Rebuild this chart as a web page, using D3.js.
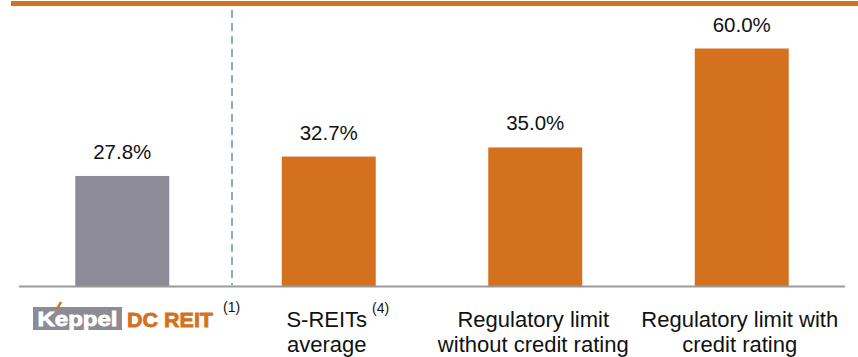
<!DOCTYPE html>
<html>
<head>
<meta charset="utf-8">
<script src="https://cdn.jsdelivr.net/npm/d3@7"></script>
<style>
  html, body { margin: 0; padding: 0; background: #fff; }
  svg { display: block; }
</style>
</head>
<body>
<svg id="chart" width="858" height="357"></svg>
<script>
// Aggregate leverage comparison
const categories = ["Keppel DC REIT", "S-REITs average", "Regulatory limit without credit rating", "Regulatory limit with credit rating"];
const values = [27.8, 32.7, 35.0, 60.0];
const valueLabels = ["27.8%", "32.7%", "35.0%", "60.0%"];
const labelLines = [
  [],
  ["S-REITs", "average"],
  ["Regulatory limit", "without credit rating"],
  ["Regulatory limit with", "credit rating"]
];
const footnotes = ["(1)", "(4)", "", ""];

const ORANGE = "#D4711F";
const GREY = "#8C8B97";
const FONT = "'Liberation Sans', Arial, sans-serif";

const svg = d3.select("#chart");

const x = d3.scaleBand()
  .domain(categories)
  .range([19, 845])
  .paddingInner(0.545)
  .paddingOuter(0.2725);

const y = d3.scaleLinear()
  .domain([0, 60])
  .range([286, 48.5]);

// top rule
svg.append("rect")
  .attr("x", 11).attr("y", 1)
  .attr("width", 847).attr("height", 5)
  .attr("fill", ORANGE);

// separator between the REIT and its benchmarks
svg.append("line")
  .attr("x1", 232).attr("x2", 232)
  .attr("y1", 10).attr("y2", 285)
  .attr("stroke", "#8FA9C9")
  .attr("stroke-width", 2)
  .attr("stroke-dasharray", "8,5");

// bars
svg.append("g").selectAll("rect")
  .data(categories)
  .join("rect")
  .attr("x", d => x(d))
  .attr("width", x.bandwidth())
  .attr("y", (d, i) => y(values[i]))
  .attr("height", (d, i) => y(0) - y(values[i]))
  .attr("fill", (d, i) => i === 0 ? GREY : ORANGE);

// baseline
svg.append("line")
  .attr("x1", 19).attr("x2", 845)
  .attr("y1", 286.5).attr("y2", 286.5)
  .attr("stroke", "#999")
  .attr("stroke-width", 2);

// value labels
svg.append("g").selectAll("text")
  .data(categories)
  .join("text")
  .attr("x", d => x(d) + x.bandwidth() / 2)
  .attr("y", (d, i) => y(values[i]) - 17)
  .attr("text-anchor", "middle")
  .attr("font-family", FONT)
  .attr("font-size", 20.5)
  .attr("fill", "#111")
  .text((d, i) => valueLabels[i]);

// category labels: one text per category, one tspan per line
const lab = svg.append("g");
categories.forEach((c, i) => {
  if (!labelLines[i].length) return;
  const cx = x(c) + x.bandwidth() / 2 - 2;
  const t = lab.append("text")
    .attr("font-family", FONT)
    .attr("font-size", 22)
    .attr("fill", "#111");
  labelLines[i].forEach((ln, j) => {
    t.append("tspan")
      .attr("x", cx)
      .attr("y", 327 + j * 25)
      .attr("text-anchor", "middle")
      .text(ln);
  });
  if (footnotes[i]) {
    const first = t.select("tspan").node();
    const w = first.getComputedTextLength();
    t.append("tspan")
      .attr("x", cx + w / 2 + 5)
      .attr("y", 313)
      .attr("text-anchor", "start")
      .attr("font-size", 14)
      .text(footnotes[i]);
  }
});

// Keppel DC REIT logo
const logo = svg.append("g");
logo.append("rect")
  .attr("x", 33).attr("y", 307)
  .attr("width", 89).attr("height", 23)
  .attr("fill", "#8C8C94");
logo.append("text")
  .attr("x", 77.5).attr("y", 326)
  .attr("text-anchor", "middle")
  .attr("font-family", FONT)
  .attr("font-weight", "bold")
  .attr("font-size", 20)
  .attr("textLength", 80)
  .attr("lengthAdjust", "spacingAndGlyphs")
  .attr("fill", "#fff")
  .attr("stroke", "#fff")
  .attr("stroke-width", 0.8)
  .text("Keppel");
logo.append("line")
  .attr("x1", 57).attr("y1", 309)
  .attr("x2", 61).attr("y2", 302)
  .attr("stroke", ORANGE)
  .attr("stroke-width", 2.5);
logo.append("text")
  .attr("x", 127).attr("y", 327)
  .attr("font-family", FONT)
  .attr("font-weight", "bold")
  .attr("font-size", 21)
  .attr("textLength", 86)
  .attr("lengthAdjust", "spacingAndGlyphs")
  .attr("fill", ORANGE)
  .attr("stroke", ORANGE)
  .attr("stroke-width", 0.8)
  .text("DC REIT");
logo.append("text")
  .attr("x", 223).attr("y", 312)
  .attr("font-family", FONT)
  .attr("font-size", 14)
  .attr("fill", "#111")
  .text(footnotes[0]);
</script>
</body>
</html>
